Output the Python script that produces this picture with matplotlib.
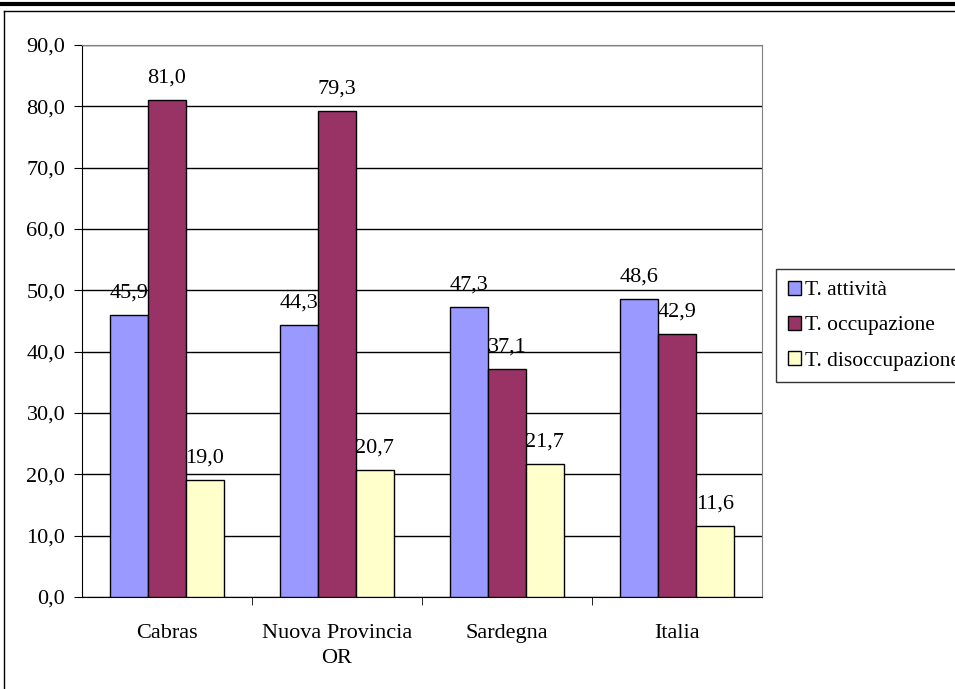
import numpy as np
import matplotlib
matplotlib.use("Agg")
import matplotlib.pyplot as plt
from matplotlib.lines import Line2D
from matplotlib.patches import Patch

categories = ["Cabras", "Nuova Provincia\nOR", "Sardegna", "Italia"]
series_names = ["T. attività", "T. occupazione", "T. disoccupazione"]
attivita = [45.9, 44.3, 47.3, 48.6]
occupazione = [81.0, 79.3, 37.1, 42.9]
disoccupazione = [19.0, 20.7, 21.7, 11.6]
colors = ["#9999FF", "#993366", "#FFFFCC"]

plt.rcParams["font.family"] = ["Liberation Serif", "DejaVu Serif"]

W, H = 955, 689
fs = 16
fig = plt.figure(figsize=(W / 100, H / 100), dpi=100)
ax = fig.add_axes([82 / W, 1 - 597 / H, (762 - 82) / W, (597 - 45) / H])

x = np.arange(len(categories))
bw = 0.222
for i, (vals, col) in enumerate(zip([attivita, occupazione, disoccupazione], colors)):
    pos = x + (i - 1) * bw
    ax.bar(pos, vals, width=bw, color=col, edgecolor="black", linewidth=1, zorder=3)
    for p, v in zip(pos, vals):
        ax.annotate(f"{v:.1f}".replace(".", ","), (p, v), xytext=(0, 9),
                    textcoords="offset points", ha="center", va="bottom",
                    fontsize=fs, zorder=4)

ax.set_xlim(-0.5, len(categories) - 0.5)
ax.set_ylim(0, 90)
yt = np.arange(0, 91, 10)
ax.set_yticks(yt)
ax.set_yticklabels([f"{v:.1f}".replace(".", ",") for v in yt], fontsize=fs)
ax.yaxis.grid(True, color="black", linewidth=1, zorder=0)
ax.set_axisbelow(True)

ax.set_xticks(x)
ax.set_xticklabels(categories, fontsize=fs, linespacing=1.45)
ax.tick_params(axis="x", length=0, pad=19.5)
ax.set_xticks(np.arange(0.5, len(categories) - 0.5, 1), minor=True)
ax.tick_params(axis="x", which="minor", length=6, direction="out", color="black")
ax.tick_params(axis="y", length=6, direction="out", color="black", pad=6)

for s in ["top", "right"]:
    ax.spines[s].set_color("#808080")
ax.spines["left"].set_color("black")
ax.spines["bottom"].set_color("black")

handles = [Patch(facecolor=c, edgecolor="black", linewidth=1) for c in colors]
leg = fig.legend(handles, series_names, loc="upper left",
                 bbox_to_anchor=(776 / W, 1 - 269 / H), fontsize=15.5,
                 frameon=True, fancybox=False, edgecolor="black",
                 handlelength=0.6, handleheight=0.6, handletextpad=0.2,
                 borderpad=0.55, labelspacing=0.73, borderaxespad=0)
leg.get_frame().set_linewidth(1)

# chart frame and top rule
fig.add_artist(Line2D([0, 1], [1 - 4 / H, 1 - 4 / H], color="black", linewidth=3,
                      transform=fig.transFigure))
fig.add_artist(Line2D([4 / W, 1], [1 - 11 / H, 1 - 11 / H], color="black", linewidth=1,
                      transform=fig.transFigure))
fig.add_artist(Line2D([4 / W, 4 / W], [0, 1 - 11 / H], color="black", linewidth=1,
                      transform=fig.transFigure))

fig.savefig("out.png", dpi=100)
